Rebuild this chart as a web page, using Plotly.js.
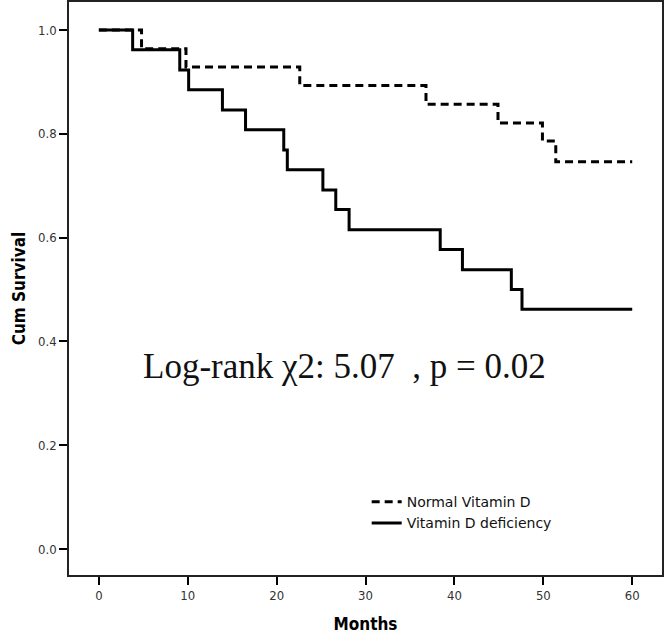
<!DOCTYPE html>
<html>
<head>
<meta charset="utf-8">
<script src="https://cdn.plot.ly/plotly-3.0.1.min.js"></script>
<style>
  html, body { margin: 0; padding: 0; background: #fff; }
  #plotArea { width: 665px; height: 638px; }
</style>
</head>
<body>
<div id="plotArea"></div>
<script>
// Kaplan-Meier steps (months, cumulative survival)
var normalMonths = [0, 4.8, 9.8, 22.6, 36.8, 44.9, 49.9, 51.4, 60];
var normalSurv   = [1.0, 0.964, 0.929, 0.893, 0.857, 0.821, 0.786, 0.746, 0.746];

var deficMonths = [0, 3.8, 9.1, 10.1, 13.9, 16.5, 20.8, 21.2, 25.2, 26.65, 28.15, 38.4, 40.9, 46.4, 47.6, 60];
var deficSurv   = [1.0, 0.962, 0.923, 0.885, 0.846, 0.808, 0.769, 0.731, 0.692, 0.654, 0.615, 0.577, 0.538, 0.5, 0.462, 0.462];

var xTicks = [0, 10, 20, 30, 40, 50, 60];
var yTicks = [0, 0.2, 0.4, 0.6, 0.8, 1.0];

var labelFont = "DejaVu Sans Condensed, DejaVu Sans, sans-serif";

var normal = {
    x: normalMonths,
    y: normalSurv,
    name: "Normal Vitamin D",
    type: "scatter",
    mode: "lines",
    line: {shape: "hv", color: "#000", width: 3, dash: "8px,5px"}
};

var defic = {
    x: deficMonths,
    y: deficSurv,
    name: "Vitamin D deficiency",
    type: "scatter",
    mode: "lines",
    line: {shape: "hv", color: "#000", width: 3}
};

var layout = {
    width: 665,
    height: 638,
    margin: {l: 69, r: 3, t: 2, b: 63},
    paper_bgcolor: "#fff",
    plot_bgcolor: "#fff",
    showlegend: true,
    legend: {
        x: 0.502, y: 0.155, xanchor: "left", yanchor: "top",
        font: {family: "DejaVu Sans, sans-serif", size: 14, color: "#111"},
        bgcolor: "rgba(0,0,0,0)",
        tracegroupgap: 0
    },
    xaxis: {
        range: [-3.36, 63.35],
        tickvals: xTicks,
        ticks: "outside", ticklen: 8, tickwidth: 1.5, tickcolor: "#000",
        showline: true, linecolor: "#222", linewidth: 1.5, mirror: true,
        showgrid: false, zeroline: false,
        tickfont: {family: labelFont, size: 13, color: "#333"},
        title: {text: "<b>Months</b>", font: {family: labelFont, size: 17, color: "#000"}, standoff: 16}
    },
    yaxis: {
        range: [-0.05, 1.054],
        tickvals: yTicks,
        tickformat: ".1f",
        ticks: "outside", ticklen: 8, tickwidth: 1.5, tickcolor: "#000",
        showline: true, linecolor: "#222", linewidth: 1.5, mirror: true,
        showgrid: false, zeroline: false,
        tickfont: {family: labelFont, size: 13, color: "#333"},
        title: {text: "<b>Cum Survival</b>", font: {family: labelFont, size: 17, color: "#000"}, standoff: 8}
    },
    annotations: [{
        x: 27.6, y: 0.351, xref: "x", yref: "y",
        text: "Log-rank \u03c72: 5.07 \u00a0, p = 0.02",
        showarrow: false,
        font: {family: "Liberation Serif, Times New Roman, serif", size: 35, color: "#111"}
    }]
};

Plotly.newPlot("plotArea", [normal, defic], layout, {displayModeBar: false});
</script>
</body>
</html>
